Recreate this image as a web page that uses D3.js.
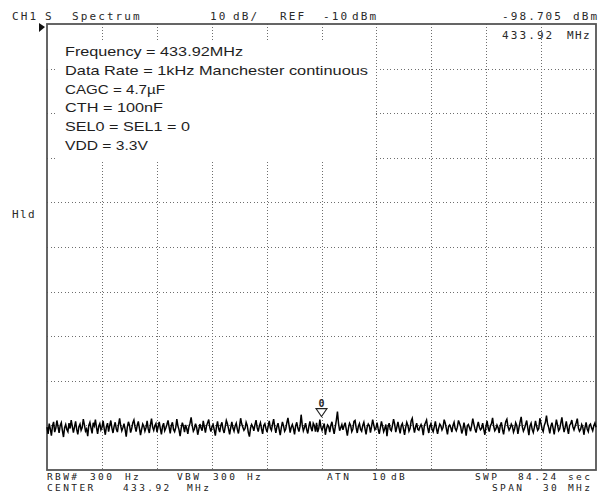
<!DOCTYPE html>
<html>
<head>
<meta charset="utf-8">
<script src="https://cdn.jsdelivr.net/npm/d3@7"></script>
<style>
  html, body { margin: 0; padding: 0; background: #fff; }
  svg { display: block; }
  .hdr { font-family: "DejaVu Sans Mono", monospace; font-size: 11px; fill: #2a2a2a; }
  .ftr { font-family: "DejaVu Sans Mono", monospace; font-size: 9.5px; fill: #222; letter-spacing: 2.4px; }
  .note { font-family: "Liberation Sans", Arial, sans-serif; font-size: 13px; fill: #1e1e1e; }
</style>
</head>
<body>
<script>
// sweep settings (MHz / dBm)
var centerFreq = 433.92,
    spanFreq = 30,
    refLevel = -10,
    dbPerDiv = 10,
    divisions = 10;

var markerFreq = 433.92,
    markerLevel = -98.705;

// trace, dBm, evenly spaced over the span
var traceLevels = [
  -100.4,-101.9,-99.6,-100.8,-102.3,-100.1,-99.2,-101.5,-100.6,-98.9,
  -100.3,-101.7,-100.0,-99.4,-101.2,-102.6,-100.5,-99.8,-100.9,-101.4,
  -99.5,-100.7,-98.8,-100.2,-101.6,-100.4,-99.1,-100.9,-102.0,-100.3,
  -99.7,-101.1,-100.5,-98.6,-99.9,-101.3,-100.8,-102.4,-100.0,-99.3,
  -100.6,-101.8,-99.4,-100.1,-98.7,-100.5,-101.9,-100.2,-99.6,-101.0,
  -100.4,-99.0,-100.7,-102.1,-100.3,-99.5,-101.4,-100.0,-98.9,-100.6,
  -101.7,-100.2,-99.3,-100.8,-101.5,-99.8,-98.4,-100.1,-101.2,-100.5,
  -99.6,-100.9,-102.5,-100.4,-99.2,-100.0,-101.6,-100.7,-99.4,-98.8,
  -100.3,-101.4,-100.0,-99.1,-100.6,-102.2,-100.9,-99.7,-100.2,-101.3,
  -100.5,-99.0,-100.8,-101.7,-99.9,-98.5,-100.4,-101.1,-100.1,-99.6,
  -101.5,-100.3,-99.2,-100.7,-102.0,-100.2,-99.5,-101.2,-100.6,-99.8,
  -98.9,-100.4,-101.8,-100.0,-99.3,-100.9,-101.4,-100.5,-98.6,-100.1,
  -101.0,-102.4,-100.6,-99.4,-100.2,-101.5,-99.9,-100.7,-101.9,-100.3,
  -99.5,-98.2,-100.0,-101.3,-100.8,-99.6,-100.4,-102.1,-100.9,-99.7,
  -100.6,-101.2,-99.0,-100.3,-101.6,-100.1,-99.4,-98.7,-100.5,-101.4,
  -100.2,-99.8,-101.0,-102.3,-100.4,-99.1,-100.7,-101.5,-100.0,-99.3,
  -100.9,-101.7,-100.3,-98.9,-99.6,-100.8,-102.0,-100.5,-99.2,-100.6,
  -101.3,-100.1,-99.5,-100.9,-101.8,-100.2,-98.4,-99.7,-100.4,-101.1,
  -100.7,-99.3,-100.0,-101.6,-102.5,-100.6,-99.8,-100.3,-101.2,-99.9,
  -98.8,-100.5,-101.4,-100.1,-99.4,-100.8,-101.9,-100.0,-99.6,-100.7,
  -101.5,-100.2,-99.0,-100.6,-101.1,-99.7,-98.6,-100.4,-101.7,-100.3,
  -99.5,-100.9,-102.2,-100.5,-99.2,-100.1,-101.3,-100.8,-99.4,-98.3,
  -100.0,-101.6,-100.4,-99.8,-100.7,-102.0,-100.1,-99.3,-100.6,-101.4,
  -100.2,-97.6,-99.9,-101.2,-100.5,-99.5,-100.9,-101.8,-100.3,-99.1,
  -100.6,-101.3,-99.5,-100.0,-101.4,-99.4,-101.5,-100.7,-98.7,-100.4,
  -101.1,-100.3,-99.6,-102.1,-100.8,-99.9,-100.2,-101.5,-100.0,-99.2,
  -100.7,-101.9,-100.4,-98.8,-96.9,-99.6,-101.2,-100.5,-99.8,-101.0,
  -100.1,-99.4,-100.9,-102.3,-100.6,-99.5,-100.0,-101.4,-100.8,-99.1,
  -98.9,-100.5,-101.7,-100.2,-99.6,-100.9,-101.3,-100.0,-99.3,-100.7,
  -102.0,-100.4,-99.7,-100.1,-101.6,-100.3,-98.7,-99.9,-101.0,-100.6,
  -99.4,-100.8,-101.9,-100.5,-99.1,-100.2,-101.4,-100.7,-99.8,-102.4,
  -100.3,-99.5,-100.9,-101.2,-100.0,-98.6,-99.7,-101.5,-100.4,-99.2,
  -100.6,-101.8,-100.1,-99.6,-100.8,-102.1,-100.5,-99.3,-100.0,-101.3,
  -100.7,-99.0,-98.4,-100.2,-101.6,-100.4,-99.5,-100.9,-101.1,-100.3,
  -99.8,-100.6,-102.2,-100.0,-99.4,-98.8,-100.5,-101.7,-100.2,-99.6,
  -100.9,-101.4,-100.3,-99.1,-100.7,-101.9,-100.6,-99.7,-100.1,-101.0,
  -100.4,-98.7,-99.5,-100.8,-102.0,-100.2,-99.9,-100.5,-101.5,-100.0,
  -99.3,-100.7,-101.2,-100.4,-98.9,-99.6,-100.3,-101.8,-100.9,-99.4,
  -100.6,-102.3,-100.1,-99.8,-100.5,-101.3,-100.0,-98.5,-99.7,-100.8,
  -101.6,-100.2,-99.2,-100.4,-101.0,-100.7,-99.5,-100.9,-102.1,-100.3,
  -99.0,-100.6,-101.4,-100.1,-99.6,-98.3,-100.2,-101.2,-100.8,-99.9,
  -100.5,-101.7,-100.0,-99.3,-100.9,-102.0,-100.4,-99.1,-98.6,-100.3,
  -101.1,-100.6,-99.7,-100.2,-101.5,-100.8,-99.4,-100.0,-101.9,-100.5,
  -99.2,-98.1,-100.3,-101.3,-100.7,-99.8,-98.9,-100.6,-102.2,-100.1,
  -99.5,-100.9,-101.6,-100.4,-99.0,-100.2,-101.1,-100.7,-98.4,-99.6,
  -100.8,-101.4,-100.0,-99.3,-97.8,-99.7,-100.5,-101.8,-100.2,-99.4,
  -100.6,-102.0,-100.3,-98.7,-99.9,-101.2,-100.8,-99.5,-98.2,-100.1,
  -101.5,-100.4,-99.1,-100.7,-101.9,-100.0,-99.6,-98.8,-100.3,-101.0,
  -100.2,-99.4,-98.5,-100.6,-101.3,-100.9,-99.8,-100.4,-102.1,-100.5,
  -99.3,-100.8,-101.4,-100.0,-99.7,-100.6,-101.2,-100.1,-99.5,-100.4
];

var noteLines = [
  'Frequency = 433.92MHz',
  'Data Rate = 1kHz Manchester continuous',
  'CAGC = 4.7\u00b5F',
  'CTH = 100nF',
  'SEL0 = SEL1 = 0',
  'VDD = 3.3V'
];
// widths the lines take on the screen shot
var noteWidths = [178, 303, 100, 98, 125, 83];

var W = 598, H = 504;
var plot = {left: 47, top: 24, right: 596, bottom: 470};

var svg = d3.select('body').append('svg')
    .attr('width', W)
    .attr('height', H);

var x = d3.scaleLinear()
    .domain([centerFreq - spanFreq / 2, centerFreq + spanFreq / 2])
    .range([plot.left, plot.right]);
var y = d3.scaleLinear()
    .domain([refLevel, refLevel - dbPerDiv * divisions])
    .range([plot.top, plot.bottom]);

// graticule
var xDivs = d3.range(1, divisions).map(function(i) {
    return x.domain()[0] + i * spanFreq / divisions;
});
var yDivs = d3.range(1, divisions).map(function(i) {
    return refLevel - i * dbPerDiv;
});

var grid = svg.append('g').attr('class', 'grid')
    .style('shape-rendering', 'crispEdges');
grid.selectAll('line.v')
    .data(xDivs)
  .enter().append('line')
    .attr('class', 'v')
    .attr('x1', function(d) { return Math.round(x(d)) + 0.5; })
    .attr('x2', function(d) { return Math.round(x(d)) + 0.5; })
    .attr('y1', plot.top)
    .attr('y2', plot.bottom)
    .style('stroke', '#6e6e6e')
    .style('stroke-width', 1)
    .style('stroke-dasharray', '1,2');
grid.selectAll('line.h')
    .data(yDivs)
  .enter().append('line')
    .attr('class', 'h')
    .attr('x1', plot.left)
    .attr('x2', plot.right)
    .attr('y1', function(d) { return Math.round(y(d)) + 0.5; })
    .attr('y2', function(d) { return Math.round(y(d)) + 0.5; })
    .style('stroke', '#6e6e6e')
    .style('stroke-width', 1)
    .style('stroke-dasharray', '1,2.5');

// white block behind the pasted notes
svg.append('rect')
    .attr('x', 55)
    .attr('y', 40)
    .attr('width', 319)
    .attr('height', 122)
    .style('fill', '#fff');

// frame
svg.append('rect')
    .attr('x', plot.left)
    .attr('y', plot.top)
    .attr('width', plot.right - plot.left)
    .attr('height', plot.bottom - plot.top)
    .style('fill', 'none')
    .style('stroke', '#555')
    .style('stroke-width', 1.8);

// reference level arrow
svg.append('path')
    .attr('d', 'M' + (plot.left - 8) + ',' + (plot.top - 1) + 'L' + (plot.left - 2) + ',' + (plot.top + 3) + 'L' + (plot.left - 8) + ',' + (plot.top + 8) + 'Z')
    .style('fill', '#111');

// trace
var step = spanFreq / (traceLevels.length - 1);
var line = d3.line()
    .x(function(d, i) { return x(x.domain()[0] + i * step); })
    .y(function(d) { return y(d); });
svg.append('path')
    .datum(traceLevels)
    .attr('d', line)
    .style('fill', 'none')
    .style('stroke', '#000')
    .style('stroke-width', 1.5);

// marker
var mx = x(markerFreq), my = y(markerLevel);
svg.append('path')
    .attr('d', 'M' + (mx - 5.5) + ',' + (my - 11) + 'H' + (mx + 5.5) + 'L' + mx + ',' + (my - 3) + 'Z')
    .style('fill', '#fff')
    .style('stroke', '#222')
    .style('stroke-width', 1.1);
svg.append('text')
    .attr('class', 'hdr')
    .attr('x', mx)
    .attr('y', my - 13)
    .attr('text-anchor', 'middle')
    .style('font-size', '10px')
    .style('font-weight', 'bold')
    .text('0');

// header / footer readouts, placed word by word like the screen
function put(cls, txt, px, py, anchor) {
    return svg.append('text')
        .attr('class', cls)
        .attr('x', px)
        .attr('y', py)
        .attr('text-anchor', anchor || 'start')
        .text(txt);
}
var hdrWords = [
    ['CH1', 12], ['S', 45], ['Spectrum', 72],
    [dbPerDiv, 210], ['dB/', 233], ['REF', 280], [refLevel, 323], ['dBm', 352],
    [markerLevel.toFixed(3), 502], ['dBm', 573]
];
hdrWords.forEach(function(w) {
    put('hdr', w[0], w[1], 20).style('letter-spacing', '2.1px');
});
put('hdr', markerFreq.toFixed(2), 502, 39).style('letter-spacing', '2.1px');
put('hdr', 'MHz', 567, 39).style('letter-spacing', '1.4px');
put('hdr', 'Hld', 12, 218).style('letter-spacing', '1.4px');

var ftrWords1 = [
    ['RBW#', 47], ['300', 90], ['Hz', 125],
    ['VBW', 177], ['300', 213], ['Hz', 247],
    ['ATN', 327], ['10', 372], ['dB', 391],
    ['SWP', 475], ['84.24', 518], ['sec', 568]
];
var ftrWords2 = [
    ['CENTER', 47], [centerFreq.toFixed(2), 123], ['MHz', 187],
    ['SPAN', 492], [spanFreq, 543], ['MHz', 568]
];
ftrWords1.forEach(function(w) { put('ftr', w[0], w[1], 480); });
ftrWords2.forEach(function(w) { put('ftr', w[0], w[1], 491); });

// notes
svg.selectAll('text.note')
    .data(noteLines)
  .enter().append('text')
    .attr('class', 'note')
    .attr('x', 65)
    .attr('y', function(d, i) { return 56 + i * 18.8; })
    .attr('textLength', function(d, i) { return noteWidths[i]; })
    .attr('lengthAdjust', 'spacingAndGlyphs')
    .text(function(d) { return d; });
</script>
</body>
</html>
